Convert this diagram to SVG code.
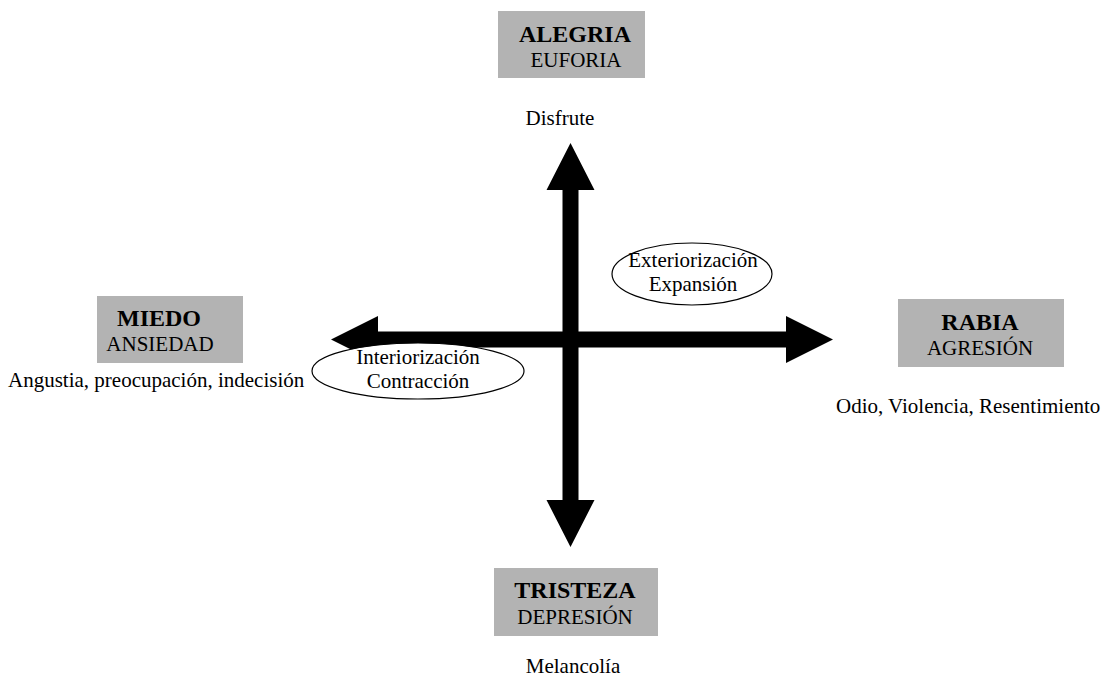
<svg xmlns="http://www.w3.org/2000/svg" width="1110" height="682" viewBox="0 0 1110 682">
<style>
.box{fill:#b3b3b3;stroke:none}
text{font-family:'Liberation Serif','Times New Roman','DejaVu Serif',serif;font-size:21px;fill:#000;text-anchor:middle}
.b{font-weight:bold;font-size:24px}
.l{text-anchor:start}
.ell{fill:#fff;stroke:#000;stroke-width:1.2}
.arr{fill:#000;stroke:none}
</style>
<rect width="1110" height="682" fill="#fff"/>
<g id="connectors">
<polygon class="arr" points="570.5,143 594.5,190 578.5,190 578.5,331.5 786,331.5 786,316 833,339.5 786,363 786,347.5 578.5,347.5 578.5,500 594.5,500 570.5,547 546.5,500 562.5,500 562.5,347.5 378,347.5 378,363 331,339.5 378,316 378,331.5 562.5,331.5 562.5,190 546.5,190"/>
</g>
<g id="alegria">
<rect class="box" x="498" y="11" width="147" height="67"/>
<text class="b" x="575" y="42">ALEGRIA</text>
<text x="576" y="67">EUFORIA</text>
</g>
<g id="disfrute"><text x="560" y="125">Disfrute</text></g>
<g id="miedo">
<rect class="box" x="97" y="296" width="146" height="67"/>
<text class="b" x="159" y="326">MIEDO</text>
<text x="160" y="351">ANSIEDAD</text>
</g>
<g id="angustia"><text class="l" x="8" y="387">Angustia, preocupación, indecisión</text></g>
<g id="rabia">
<rect class="box" x="898" y="299" width="166" height="68"/>
<text class="b" x="980" y="330">RABIA</text>
<text x="980" y="355">AGRESIÓN</text>
</g>
<g id="odio"><text class="l" x="836" y="413">Odio, Violencia, Resentimiento</text></g>
<g id="tristeza">
<rect class="box" x="494" y="568" width="164" height="68"/>
<text class="b" x="575" y="598">TRISTEZA</text>
<text x="575" y="624">DEPRESIÓN</text>
</g>
<g id="melancolia"><text x="573" y="673">Melancolía</text></g>
<g id="exteriorizacion">
<ellipse class="ell" cx="692" cy="274" rx="80" ry="31"/>
<text x="693" y="267">Exteriorización</text>
<text x="693" y="291">Expansión</text>
</g>
<g id="interiorizacion">
<ellipse class="ell" cx="418" cy="371" rx="106" ry="28"/>
<text x="418" y="364">Interiorización</text>
<text x="418" y="388">Contracción</text>
</g>
</svg>
